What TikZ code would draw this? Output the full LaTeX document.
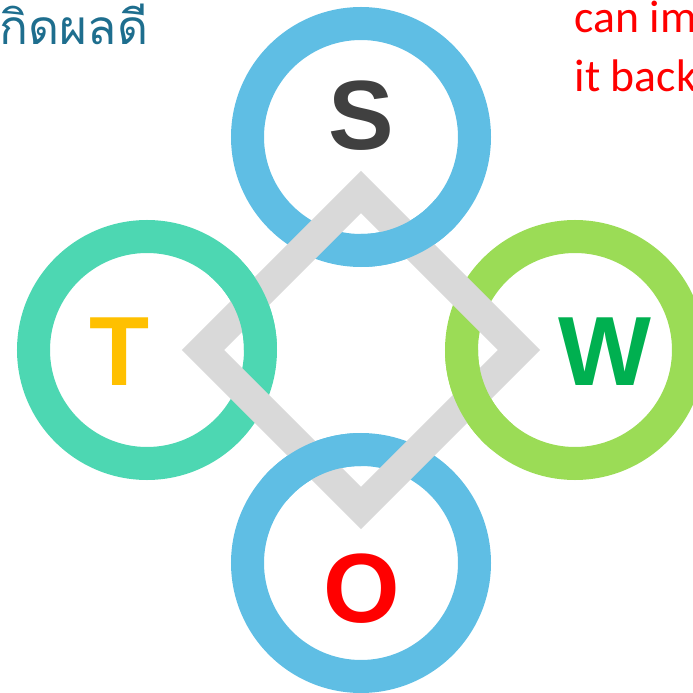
\documentclass[tikz,border=0pt]{standalone}
\usepackage{fontspec}
\setmainfont{Liberation Sans}
\newfontfamily\thaifont[Script=Thai]{Loma}
\newfontfamily\notefont{Carlito}

\definecolor{ringblue}{HTML}{5FBEE4}
\definecolor{ringteal}{HTML}{4DD7B2}
\definecolor{ringlime}{HTML}{9BDC56}
\definecolor{bandgray}{HTML}{D9D9D9}
\definecolor{thaiblue}{HTML}{1E6E8E}
\definecolor{sgray}{HTML}{404040}
\definecolor{torange}{HTML}{FFC000}
\definecolor{wgreen}{HTML}{00B050}

\tikzset{
    ring/.style={line width=0.33cm},
    band/.style={line width=0.30cm,draw=bandgray},
    letter/.style={font=\fontsize{28}{30}\selectfont\bfseries,inner sep=0pt},
    note/.style={font=\notefont\fontsize{13}{15}\selectfont,text=red,inner sep=0pt,anchor=base west},
}

\newcommand{\Ring}[2]{%
    \draw[ring,draw=#2] (#1) circle[radius=1.135];
}
\newcommand{\Over}[3]{%
    \draw[ring,draw=#2] ([shift={(#3:1.135)}]#1) arc[start angle=#3, delta angle=50, radius=1.135];
}

\begin{document}
\begin{tikzpicture}
    \useasboundingbox (-3.61,-3.43) rectangle (3.31,3.50);
    \coordinate (s) at (0,2.13);
    \coordinate (w) at (2.14,0);
    \coordinate (o) at (0,-2.13);
    \coordinate (t) at (-2.14,0);
    \Ring{s}{ringblue};
    \Ring{w}{ringlime};
    \Ring{o}{ringblue};
    \Ring{t}{ringteal};
    \draw[band] (0,1.58) -- (1.58,0) -- (0,-1.58) -- (-1.58,0) -- cycle;
    \Over{s}{ringblue}{-90};
    \Over{w}{ringlime}{-180};
    \Over{o}{ringblue}{90};
    \Over{t}{ringteal}{0};
    \node[letter,text=sgray] (sl) at (0,2.34) {S};
    \node[letter,text=wgreen] (wl) at (2.44,-0.02) {W};
    \node[letter,text=red] (ol) at (0.01,-2.39) {O};
    \node[letter,text=torange] (tl) at (-2.41,-0.02) {T};
    \node[font=\thaifont\fontsize{13.6}{16}\selectfont,text=thaiblue,inner sep=0pt,anchor=base east] (thai) at (-2.12,3.05) {เกิดผลดี};
    \node[note] (note1) at (2.13,3.17) {can im};
    \node[note] (note2) at (2.13,2.58) {it back};
\end{tikzpicture}
\end{document}
